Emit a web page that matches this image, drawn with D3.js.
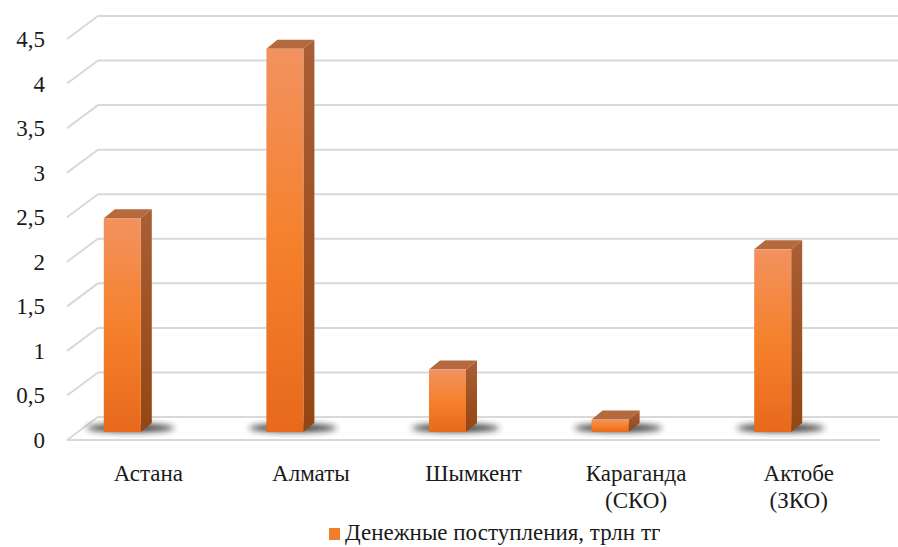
<!DOCTYPE html>
<html>
<head>
    <meta charset="utf-8">
    <title>Денежные поступления</title>
    <script src="https://cdn.jsdelivr.net/npm/d3@7"></script>
    <style>
        body { margin: 0; background: #fff; }
    </style>
</head>
<body>
<script>
    var w = 898;
    var h = 547;

    // data
    var categories = [["Астана"], ["Алматы"], ["Шымкент"], ["Караганда", "(СКО)"], ["Актобе", "(ЗКО)"]];
    var values = [2.4, 4.3, 0.7, 0.14, 2.05];
    var yTicks = [0, 0.5, 1, 1.5, 2, 2.5, 3, 3.5, 4, 4.5];
    var seriesName = "Денежные поступления, трлн тг";

    // 3d offsets: back wall vs front edge of floor
    var depthX = 31, depthY = 23;
    var barDepthX = 11, barDepthY = 9;
    var barShift = 26, barW = 37, barBase = 15;
    var font = "'Times New Roman', Tinos, 'Liberation Serif', 'DejaVu Serif', serif";

    var svg = d3.select("body").append("svg")
        .attr("width", w)
        .attr("height", h)
        .style("font-family", font);

    var defs = svg.append("defs");
    var gFront = defs.append("linearGradient").attr("id", "gFront")
        .attr("x1", 0).attr("y1", 0).attr("x2", 0).attr("y2", 1);
    gFront.append("stop").attr("offset", "0%").attr("stop-color", "#f29260");
    gFront.append("stop").attr("offset", "50%").attr("stop-color", "#f5812c");
    gFront.append("stop").attr("offset", "100%").attr("stop-color", "#e8691c");
    var gSide = defs.append("linearGradient").attr("id", "gSide")
        .attr("x1", 0).attr("y1", 0).attr("x2", 0).attr("y2", 1);
    gSide.append("stop").attr("offset", "0%").attr("stop-color", "#a95f35");
    gSide.append("stop").attr("offset", "100%").attr("stop-color", "#944612");
    defs.append("filter").attr("id", "blur")
        .attr("x", "-50%").attr("y", "-200%").attr("width", "200%").attr("height", "500%")
        .append("feGaussianBlur").attr("stdDeviation", 3);

    // back wall scale
    var y = d3.scaleLinear().domain([0, 4.5]).range([417, 16]);
    // front floor category scale
    var x = d3.scaleBand().domain(d3.range(categories.length)).range([67, 880]);

    var backLeft = 98, backRight = w;

    // gridlines: left wall diagonal + back wall horizontal
    var grid = svg.append("g").attr("stroke", "#d9d9d9").attr("stroke-width", 2).attr("fill", "none");
    grid.selectAll("path.g")
        .data(yTicks)
        .enter()
        .append("path")
        .attr("class", "g")
        .attr("d", function(d) {
            return "M" + (backLeft - depthX) + "," + (y(d) + depthY) +
                   "L" + backLeft + "," + y(d) + "L" + backRight + "," + y(d);
        });
    // floor front edge
    grid.append("line")
        .attr("x1", x.range()[0]).attr("x2", x.range()[1])
        .attr("y1", y(0) + depthY).attr("y2", y(0) + depthY);

    // y labels
    svg.append("g").selectAll("text")
        .data(yTicks)
        .enter()
        .append("text")
        .attr("x", 45)
        .attr("y", function(d) { return y(d) + depthY; })
        .attr("dy", "0.35em")
        .attr("text-anchor", "end")
        .style("font-family", font)
        .attr("font-size", 23)
        .attr("fill", "#1a1a1a")
        .text(function(d) { return String(d).replace(".", ","); });

    // bars
    var bars = svg.append("g").selectAll("g")
        .data(values)
        .enter()
        .append("g");

    function barLeft(i) { return x(i) + x.bandwidth() / 2 - barShift - barW / 2; }
    function barTop(d) { return y(d) + barBase; }
    var base = y(0) + barBase;

    bars.append("ellipse")
        .attr("cx", function(d, i) { return barLeft(i) + barW / 2 + 8; })
        .attr("cy", base - 4)
        .attr("rx", 44)
        .attr("ry", 4)
        .attr("fill", "#222")
        .attr("opacity", 0.9)
        .attr("filter", "url(#blur)");

    bars.append("path")
        .attr("fill", "#b56a3e")
        .attr("d", function(d, i) {
            var l = barLeft(i), t = barTop(d);
            return "M" + l + "," + t + "L" + (l + barDepthX) + "," + (t - barDepthY) +
                   "L" + (l + barW + barDepthX) + "," + (t - barDepthY) + "L" + (l + barW) + "," + t + "Z";
        });
    bars.append("path")
        .attr("fill", "url(#gSide)")
        .attr("d", function(d, i) {
            var r = barLeft(i) + barW, t = barTop(d);
            return "M" + r + "," + t + "L" + (r + barDepthX) + "," + (t - barDepthY) +
                   "L" + (r + barDepthX) + "," + (base - barDepthY) + "L" + r + "," + base + "Z";
        });
    bars.append("rect")
        .attr("x", function(d, i) { return barLeft(i); })
        .attr("y", function(d) { return barTop(d); })
        .attr("width", barW)
        .attr("height", function(d) { return base - barTop(d); })
        .attr("fill", "url(#gFront)");

    // category labels
    var labels = svg.append("g").selectAll("text")
        .data(categories)
        .enter()
        .append("text")
        .attr("text-anchor", "middle")
        .style("font-family", font)
        .attr("font-size", 23)
        .attr("fill", "#1a1a1a")
        .attr("x", function(d, i) { return x(i) + x.bandwidth() / 2; })
        .attr("y", 481);
    labels.selectAll("tspan")
        .data(function(d) { return d; })
        .enter()
        .append("tspan")
        .attr("x", function() { return d3.select(this.parentNode).attr("x"); })
        .attr("dy", function(d, i) { return i === 0 ? 0 : 27; })
        .text(function(d) { return d; });

    // legend
    var legend = svg.append("g").attr("transform", "translate(329,528)");
    legend.append("rect").attr("width", 11).attr("height", 12).attr("fill", "#f07f2c");
    legend.append("text")
        .attr("x", 16).attr("y", 12)
        .style("font-family", font)
        .attr("font-size", 23)
        .attr("fill", "#1a1a1a")
        .text(seriesName);
</script>
</body>
</html>
